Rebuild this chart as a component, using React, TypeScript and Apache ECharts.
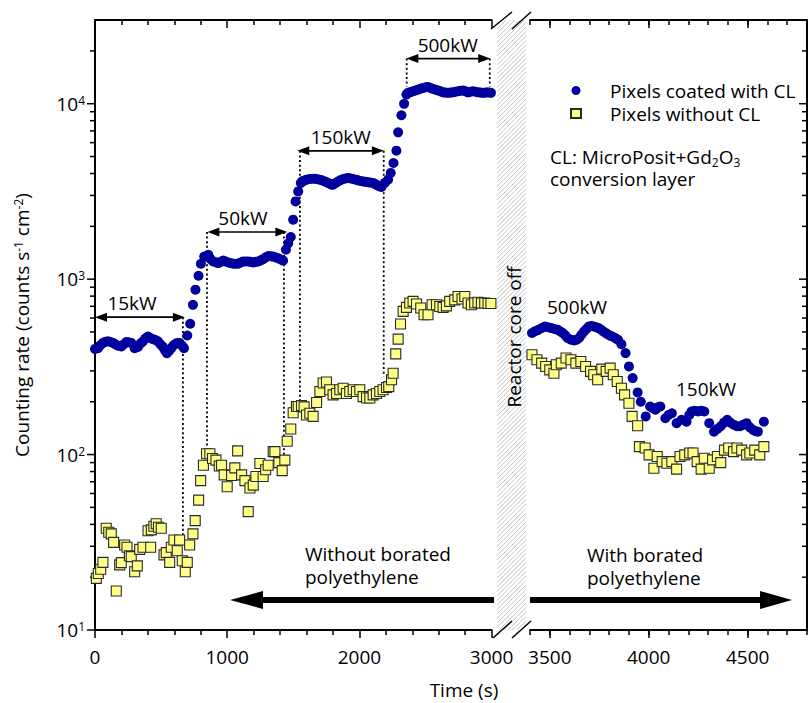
import React, { useEffect, useRef } from 'react';
import * as echarts from 'echarts';

const FONT = "'Open Sans', 'Noto Sans', sans-serif";
const BLUE = '#00009c';
const YELLOW = '#ffff85';

// ---- Series data: [time (s), counting rate (counts s^-1 cm^-2)] ----
const coatedBefore: number[][] = [
  [0, 400], [23, 404], [40, 420], [60, 433], [80, 440], [98, 442], [118, 438], [136, 433], [155, 425], [174, 417],
  [199, 413], [218, 425], [237, 438], [255, 437], [274, 433], [300, 404], [325, 411], [345, 430], [363, 442], [382, 460],
  [401, 471], [420, 462], [438, 455], [457, 450], [476, 442], [495, 425], [514, 411], [530, 392], [544, 378], [560, 390],
  [577, 404], [592, 418], [607, 427], [623, 433], [640, 433], [656, 420], [673, 404], [698, 477], [720, 557], [741, 714],
  [760, 871], [783, 1045], [801, 1224], [826, 1345], [857, 1377], [875, 1300], [894, 1262], [913, 1250], [932, 1234], [951, 1255],
  [970, 1276], [989, 1260], [1008, 1244], [1027, 1235], [1045, 1224], [1064, 1224], [1083, 1224], [1102, 1245], [1121, 1262], [1140, 1262],
  [1159, 1262], [1178, 1255], [1197, 1244], [1216, 1255], [1234, 1262], [1253, 1280], [1272, 1300], [1291, 1330], [1310, 1355], [1329, 1350],
  [1348, 1345], [1367, 1330], [1386, 1315], [1405, 1295], [1423, 1276], [1444, 1471], [1462, 1600], [1481, 1738], [1499, 2183], [1517, 2773],
  [1537, 3162], [1557, 3535], [1570, 3620], [1587, 3656], [1606, 3700], [1625, 3724], [1644, 3735], [1663, 3740], [1682, 3715], [1701, 3690],
  [1720, 3650], [1738, 3606], [1757, 3550], [1776, 3499], [1789, 3460], [1801, 3450], [1820, 3530], [1839, 3606], [1858, 3670], [1877, 3724],
  [1896, 3750], [1915, 3776], [1934, 3750], [1953, 3724], [1972, 3690], [1990, 3656], [2009, 3630], [2028, 3606], [2047, 3585], [2066, 3565],
  [2085, 3550], [2104, 3535], [2122, 3470], [2141, 3413], [2154, 3380], [2167, 3350], [2192, 3535], [2217, 3690], [2237, 4030], [2258, 4590],
  [2280, 5400], [2293, 6870], [2318, 8590], [2338, 9980], [2356, 11270], [2368, 11530], [2387, 11650], [2406, 11780], [2425, 11900], [2444, 12030],
  [2463, 12170], [2481, 12300], [2500, 12400], [2519, 12470], [2538, 12300], [2557, 12140], [2576, 12020], [2595, 11910], [2614, 11760], [2633, 11610],
  [2651, 11570], [2670, 11530], [2689, 11570], [2708, 11610], [2727, 11700], [2746, 11780], [2765, 11850], [2784, 11910], [2803, 11760], [2822, 11610],
  [2841, 11700], [2859, 11780], [2878, 11700], [2897, 11610], [2916, 11570], [2935, 11530], [2954, 11570], [2973, 11610], [2995, 11530],
];

const bareBefore: number[][] = [
  [10, 19.7], [25, 21], [43, 22.2], [60, 24.3], [85, 38], [104, 36.1], [123, 35.3], [141, 31.6], [161, 16.7], [187, 23.5],
  [199, 24.2], [224, 30.5], [242, 29.6], [260, 26.5], [274, 26.2], [300, 21.5], [320, 23.2], [338, 28.8], [363, 29.6], [401, 36.8],
  [421, 29.6], [426, 37.2], [445, 39], [463, 40.3], [480, 38.5], [501, 38], [522, 26.8], [539, 27.6], [565, 24.3], [577, 29.6],
  [597, 32.6], [622, 28.3], [640, 32.6], [660, 24.8], [683, 21.5], [698, 24.3], [716, 30.5], [741, 35.3], [758, 42], [784, 55],
  [799, 71], [820, 87], [844, 101], [869, 101], [889, 95], [915, 93], [940, 86], [957, 87], [977, 76.6], [1000, 65.6],
  [1033, 76], [1058, 84], [1079, 105], [1109, 76.6], [1134, 71], [1159, 47.3], [1172, 64.5], [1197, 67], [1217, 75], [1247, 89],
  [1272, 75], [1291, 82], [1310, 87], [1348, 104], [1361, 104], [1391, 90], [1416, 81], [1436, 93], [1454, 119], [1481, 140],
  [1499, 173], [1524, 188], [1537, 188], [1562, 190], [1582, 187], [1600, 168], [1625, 172], [1650, 165], [1676, 198], [1701, 229],
  [1726, 256], [1751, 259], [1776, 234], [1801, 219], [1827, 223], [1852, 234], [1877, 239], [1902, 223], [1927, 229], [1953, 234],
  [1978, 229], [2003, 234], [2028, 214], [2054, 210], [2079, 210], [2104, 219], [2129, 223], [2154, 229], [2179, 234], [2205, 241],
  [2222, 244], [2243, 267], [2255, 291], [2275, 375], [2293, 455], [2311, 555], [2331, 655], [2356, 690], [2381, 731], [2406, 747],
  [2432, 722], [2464, 684], [2489, 627], [2519, 627], [2550, 714], [2583, 714], [2608, 698], [2633, 690], [2658, 704], [2683, 747],
  [2721, 762], [2746, 796], [2776, 770], [2797, 796], [2822, 731], [2847, 714], [2872, 731], [2897, 738], [2923, 731], [2948, 731],
  [2973, 727], [2995, 727],
];

const coatedAfter: number[][] = [
  [3410, 493], [3426, 505], [3442, 514], [3459, 526], [3475, 537], [3491, 532], [3508, 526], [3524, 520], [3541, 514], [3554, 503],
  [3566, 493], [3578, 478], [3590, 462], [3607, 452], [3623, 447], [3636, 452], [3648, 462], [3660, 482], [3673, 503], [3685, 520],
  [3697, 537], [3710, 540], [3722, 537], [3735, 532], [3747, 526], [3759, 515], [3771, 503], [3784, 492], [3796, 482], [3808, 475],
  [3821, 468], [3833, 460], [3845, 451], [3862, 426], [3883, 379], [3900, 318], [3919, 273], [3944, 226], [3960, 200], [3985, 165],
  [4007, 188], [4020, 184], [4034, 180], [4046, 186], [4059, 188], [4084, 161], [4100, 168], [4117, 172], [4141, 151], [4166, 158],
  [4191, 154], [4205, 168], [4216, 176], [4232, 178], [4249, 176], [4265, 178], [4281, 176], [4306, 151], [4330, 135], [4347, 140],
  [4364, 145], [4380, 152], [4397, 158], [4413, 152], [4429, 148], [4446, 145], [4462, 145], [4478, 148], [4495, 151], [4511, 143],
  [4528, 138], [4540, 136], [4552, 135], [4582, 154],
];

const bareAfter: number[][] = [
  [3410, 371], [3435, 347], [3459, 332], [3479, 318], [3500, 304], [3521, 291], [3533, 325], [3558, 332], [3582, 355], [3607, 347],
  [3632, 332], [3657, 339], [3681, 318], [3706, 298], [3722, 285], [3742, 267], [3763, 307], [3785, 298], [3805, 311], [3821, 285],
  [3841, 261], [3862, 239], [3878, 219], [3900, 196], [3916, 165], [3944, 146], [3953, 111], [3982, 109], [4002, 99.6], [4026, 83.6],
  [4043, 97.5], [4068, 91.2], [4092, 89.3], [4117, 91.2], [4141, 82.6], [4158, 97.5], [4182, 99.6], [4207, 102], [4224, 102], [4245, 91.2],
  [4265, 82.6], [4281, 95.3], [4306, 83.6], [4323, 93.3], [4347, 97.5], [4364, 90], [4383, 106], [4404, 109], [4429, 104], [4446, 109],
  [4470, 106], [4495, 99.6], [4511, 102], [4536, 106], [4561, 99.6], [4582, 111],
];

// ---- Annotations (data coordinates) ----
const powerLabels = ['15kW', '50kW', '150kW', '500kW'];
const powerStart = [0, 850, 1530, 2355];
const powerEnd = [680, 1455, 2185, 2990];
const powerLevel = [607, 1856, 5387, 18070];
const powerLabelAt = [280, 1119, 1859, 2668];

const guideTime = [665, 847, 1429, 1550, 2184, 2358, 2986];
const guideTop = [607, 1856, 1856, 5387, 5387, 18070, 18070];
const guideBottom = [32.7, 100, 98, 198, 279, 12500, 12500];

// ---- Axis ticks ----
const xMajorRight = [3500, 4000, 4500];
const yMajorTicks = [10, 100, 1000, 10000];
const yMinorTicks = [20, 30, 40, 50, 60, 70, 80, 90, 200, 300, 400, 500, 600, 700, 800, 900,
  2000, 3000, 4000, 5000, 6000, 7000, 8000, 9000, 20000];

const txt = (extra: any = {}) => ({ fontSize: 19, fontFamily: FONT, color: '#000', ...extra });
const supRich = { s: { fontSize: 12, fontFamily: FONT, color: '#000', verticalAlign: 'top' } };
const axisLine = { show: true, onZero: false, lineStyle: { color: '#000', width: 2 } };
const tickStyle = { color: '#000', width: 1.5 };

function buildGraphics() {
  const g: any[] = [];
  const hx0 = 497, hx1 = 526, hy0 = 20, hy1 = 630, step = 4.5;
  for (let c = hx0 + hy0; c <= hx1 + hy1; c += step) {
    const xa = Math.max(hx0, c - hy1);
    const xb = Math.min(hx1, c - hy0);
    if (xb <= xa) continue;
    g.push({ type: 'line', silent: true, shape: { x1: xa, y1: c - xa, x2: xb, y2: c - xb }, style: { stroke: '#bdbdbd', lineWidth: 0.9 } });
  }
  const slash = (x1: number, y1: number, x2: number, y2: number) =>
    ({ type: 'line', silent: true, shape: { x1, y1, x2, y2 }, style: { stroke: '#000', lineWidth: 1.5 } });
  g.push(slash(491, 29, 512, 12), slash(512, 29, 531, 12), slash(493, 638, 512, 621), slash(512, 638, 531, 621));
  // big direction arrows
  g.push({ type: 'polygon', silent: true, shape: { points: [[230, 600], [263, 591], [263, 609]] }, style: { fill: '#000' } });
  g.push({ type: 'rect', silent: true, shape: { x: 262, y: 597, width: 232, height: 6 }, style: { fill: '#000' } });
  g.push({ type: 'rect', silent: true, shape: { x: 530, y: 597, width: 231, height: 6 }, style: { fill: '#000' } });
  g.push({ type: 'polygon', silent: true, shape: { points: [[792, 600], [760, 591], [760, 609]] }, style: { fill: '#000' } });
  const t = (x: number, y: number, text: string, extra: any = {}) => ({
    type: 'text', silent: true, x, y,
    style: { text, fontSize: 19, fontFamily: FONT, fill: '#000', align: 'center', verticalAlign: 'middle', ...extra },
  });
  g.push(t(577, 307, '500kW'));
  g.push(t(706, 389, '150kW'));
  g.push({ ...t(514, 337, 'Reactor core off'), rotation: Math.PI / 2 });
  g.push(t(305, 542, 'Without borated\npolyethylene', { align: 'left', verticalAlign: 'top', lineHeight: 23 }));
  g.push(t(587, 543, 'With borated\npolyethylene', { align: 'left', verticalAlign: 'top', lineHeight: 23 }));
  g.push(t(550, 146, 'CL: MicroPosit+Gd{b|2}O{b|3}\nconversion layer', {
    align: 'left', verticalAlign: 'top', lineHeight: 22,
    rich: { b: { fontSize: 12, fontFamily: FONT, fill: '#000', verticalAlign: 'bottom', lineHeight: 22 } },
  }));
  g.push(t(464, 690, 'Time (s)'));
  return g;
}

function yTickItem(side: 'left' | 'right') {
  return (params: any, api: any) => {
    const cs = params.coordSys;
    const p = api.coord([api.value(0), api.value(1)]);
    const len = api.value(2) ? 8 : 5;
    const x0 = side === 'left' ? cs.x : cs.x + cs.width;
    return {
      type: 'line',
      shape: { x1: x0 - len, y1: p[1], x2: x0, y2: p[1] },
      style: { stroke: '#000', lineWidth: 1.5 },
    };
  };
}

function buildOption() {
  const tickData = (x: number) => [
    ...yMajorTicks.map((v) => [x, v, 1]),
    ...yMinorTicks.map((v) => [x, v, 0]),
  ];
  const arrowData = powerLabels.map((_, i) => [powerStart[i], powerLevel[i], powerEnd[i], powerLabelAt[i]]);
  const guideData = guideTime.map((tm, i) => [tm, guideTop[i], guideBottom[i]]);

  return {
    animation: false,
    backgroundColor: '#fff',
    textStyle: { fontFamily: FONT },
    grid: [
      { left: 95, top: 20, width: 396.6, height: 610 },
      { left: 530, top: 20, width: 283.5, height: 610 },
    ],
    legend: {
      left: 565, top: 76, orient: 'vertical', itemWidth: 10, itemHeight: 9, itemGap: 4,
      textStyle: txt({ padding: [0, 0, 0, 24] }),
      data: ['Pixels coated with CL', 'Pixels without CL'],
    },
    xAxis: [
      {
        type: 'value', gridIndex: 0, position: 'bottom', min: 0, max: 3000, interval: 1000,
        axisLine, splitLine: { show: false },
        axisTick: { show: true, length: 8, lineStyle: tickStyle },
        minorTick: { show: true, splitNumber: 5, length: 5, lineStyle: tickStyle },
        axisLabel: txt({ margin: 17, formatter: (v: number) => String(v) }),
      },
      {
        type: 'value', gridIndex: 0, position: 'top', min: 0, max: 3000, interval: 1000,
        axisLine, splitLine: { show: false },
        axisTick: { show: true, inside: true, length: 8, lineStyle: tickStyle },
        minorTick: { show: true, splitNumber: 5, length: 5, lineStyle: tickStyle },
        axisLabel: { show: false },
      },
      {
        type: 'value', gridIndex: 1, position: 'bottom', min: 3400, max: 4800, interval: 100,
        axisLine, splitLine: { show: false },
        axisTick: { show: true, length: 5, lineStyle: tickStyle },
        axisLabel: txt({ margin: 17, interval: 0, formatter: (v: number) => (v % 500 === 0 ? String(v) : '') }),
      },
      {
        type: 'value', gridIndex: 1, position: 'bottom', min: 3400, max: 4800,
        axisLine: { show: false }, splitLine: { show: false },
        axisTick: { show: true, length: 8, lineStyle: tickStyle, customValues: xMajorRight },
        axisLabel: { show: false },
      },
      {
        type: 'value', gridIndex: 1, position: 'top', min: 3400, max: 4800, interval: 100,
        axisLine, splitLine: { show: false },
        axisTick: { show: true, inside: true, length: 5, lineStyle: tickStyle },
        axisLabel: { show: false },
      },
      {
        type: 'value', gridIndex: 1, position: 'top', min: 3400, max: 4800,
        axisLine: { show: false }, splitLine: { show: false },
        axisTick: { show: true, inside: true, length: 8, lineStyle: tickStyle, customValues: xMajorRight },
        axisLabel: { show: false },
      },
    ],
    yAxis: [
      {
        type: 'log', logBase: 10, gridIndex: 0, position: 'left', min: 10, max: 30000,
        axisLine, axisTick: { show: false }, splitLine: { show: false },
        axisLabel: txt({
          margin: 10,
          formatter: (v: number) => {
            const l = Math.log10(v);
            const e = Math.round(l);
            return Math.abs(l - e) < 1e-6 ? `10{s|${e}}` : '';
          },
          rich: supRich,
        }),
        name: 'Counting rate (counts s{s|-1} cm{s|-2})',
        nameLocation: 'middle', nameGap: 64, nameRotate: 90,
        nameTextStyle: txt({ rich: supRich }),
      },
      {
        type: 'log', logBase: 10, gridIndex: 1, position: 'right', min: 10, max: 30000,
        axisLine, axisTick: { show: false }, splitLine: { show: false }, axisLabel: { show: false },
      },
    ],
    series: [
      {
        type: 'custom', name: 'yticksL', xAxisIndex: 0, yAxisIndex: 0, clip: false, silent: true, z: 1,
        renderItem: yTickItem('left'), data: tickData(0),
      },
      {
        type: 'custom', name: 'yticksR', xAxisIndex: 2, yAxisIndex: 1, clip: false, silent: true, z: 1,
        renderItem: yTickItem('right'), data: tickData(3400),
      },
      {
        type: 'custom', name: 'guides', xAxisIndex: 0, yAxisIndex: 0, clip: false, silent: true, z: 1,
        data: guideData,
        renderItem: (params: any, api: any) => {
          const a = api.coord([api.value(0), api.value(1)]);
          const b = api.coord([api.value(0), api.value(2)]);
          return {
            type: 'line', shape: { x1: a[0], y1: a[1], x2: b[0], y2: b[1] },
            style: { stroke: '#000', lineWidth: 1.8, lineDash: [2, 2.6] },
          };
        },
      },
      {
        type: 'custom', name: 'powerArrows', xAxisIndex: 0, yAxisIndex: 0, clip: false, silent: true, z: 4,
        data: arrowData,
        renderItem: (params: any, api: any) => {
          const i = params.dataIndex;
          const a = api.coord([api.value(0), api.value(1)]);
          const b = api.coord([api.value(2), api.value(1)]);
          const m = api.coord([api.value(3), api.value(1)]);
          const y = a[1];
          const L = 12, H = 4.5;
          return {
            type: 'group',
            children: [
              { type: 'line', shape: { x1: a[0] + L - 1, y1: y, x2: b[0] - L + 1, y2: y }, style: { stroke: '#000', lineWidth: 1.6 } },
              { type: 'polygon', shape: { points: [[a[0], y], [a[0] + L, y - H], [a[0] + L, y + H]] }, style: { fill: '#000' } },
              { type: 'polygon', shape: { points: [[b[0], y], [b[0] - L, y - H], [b[0] - L, y + H]] }, style: { fill: '#000' } },
              {
                type: 'text', x: m[0], y: y - 14,
                style: { text: powerLabels[i], fontSize: 19, fontFamily: FONT, fill: '#000', align: 'center', verticalAlign: 'middle' },
              },
            ],
          };
        },
      },
      {
        type: 'scatter', name: 'Pixels coated with CL', xAxisIndex: 0, yAxisIndex: 0, z: 3,
        symbol: 'circle', symbolSize: 10, itemStyle: { color: BLUE, opacity: 1 }, data: coatedBefore,
      },
      {
        type: 'scatter', name: 'Pixels without CL', xAxisIndex: 0, yAxisIndex: 0, z: 3,
        symbol: 'rect', symbolSize: 10, itemStyle: { color: YELLOW, borderColor: '#2a2a2a', borderWidth: 1.1, opacity: 1 }, data: bareBefore,
      },
      {
        type: 'scatter', name: 'Pixels coated with CL', xAxisIndex: 2, yAxisIndex: 1, z: 3,
        symbol: 'circle', symbolSize: 10, itemStyle: { color: BLUE, opacity: 1 }, data: coatedAfter,
      },
      {
        type: 'scatter', name: 'Pixels without CL', xAxisIndex: 2, yAxisIndex: 1, z: 3,
        symbol: 'rect', symbolSize: 10, itemStyle: { color: YELLOW, borderColor: '#2a2a2a', borderWidth: 1.1, opacity: 1 }, data: bareAfter,
      },
    ],
    graphic: buildGraphics(),
  };
}

export default function App() {
  const ref = useRef<HTMLDivElement>(null);
  useEffect(() => {
    document.body.style.margin = '0';
    const chart = echarts.init(ref.current!, null, { renderer: 'svg' });
    chart.setOption(buildOption() as any);
    return () => chart.dispose();
  }, []);
  return <div ref={ref} style={{ position: 'absolute', left: 0, top: 0, width: 810, height: 703 }} />;
}
